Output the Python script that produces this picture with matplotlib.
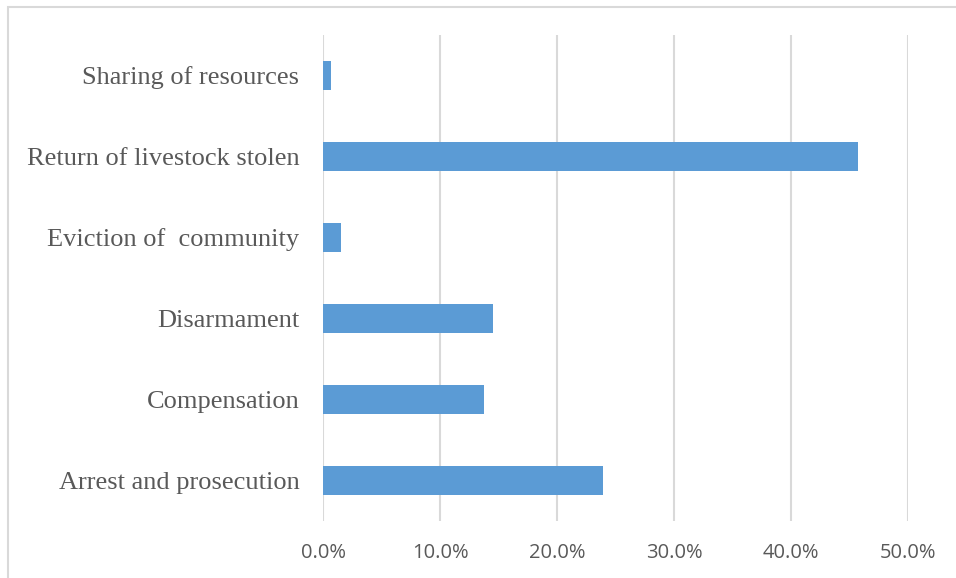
import matplotlib.pyplot as plt
from matplotlib.patches import Rectangle
from matplotlib.ticker import FuncFormatter

categories = ['Arrest and prosecution', 'Compensation', 'Disarmament',
              'Eviction of  community', 'Return of livestock stolen',
              'Sharing of resources']
shares = [23.9, 13.8, 14.5, 1.5, 45.7, 0.7]

bar_color = '#5B9BD5'
grid_color = '#D9D9D9'
text_color = '#595959'

fig = plt.figure(figsize=(9.56, 5.78), dpi=100)
ax = fig.add_axes([323 / 956, 1 - 521 / 578, (908 - 323) / 956 + 0.0001, (521 - 35) / 578])

ypos = range(len(categories))
ax.barh(ypos, shares, height=0.35, color=bar_color, zorder=3)

ax.set_xlim(0, 50)
ax.set_ylim(-0.5, len(categories) - 0.5)
ax.set_xticks([0, 10, 20, 30, 40, 50])
ax.xaxis.set_major_formatter(FuncFormatter(lambda v, p: f'{v:.1f}%'))
ax.set_yticks(list(ypos))
ax.set_yticklabels(categories, fontfamily='Liberation Serif', fontsize=19, color=text_color)

for lab in ax.get_xticklabels():
    lab.set_fontfamily('Open Sans')
    lab.set_fontsize(14.5)
    lab.set_color(text_color)

ax.grid(axis='x', color=grid_color, linewidth=1.5, zorder=0)
ax.tick_params(axis='both', length=0)
ax.tick_params(axis='x', pad=16)
ax.tick_params(axis='y', pad=17)
for side in ['top', 'right', 'bottom', 'left']:
    ax.spines[side].set_visible(False)

# outer chart border
fig.patches.append(Rectangle((8 / 956, -0.1), 1.2, 1.1 - 7 / 578,
                             transform=fig.transFigure, fill=False,
                             edgecolor=grid_color, linewidth=1.5))

fig.savefig('out.png', dpi=100)
